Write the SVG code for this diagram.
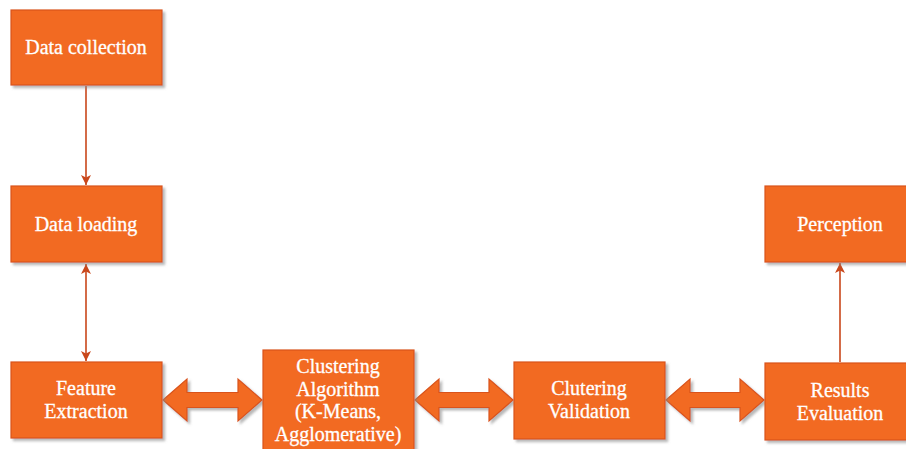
<svg xmlns="http://www.w3.org/2000/svg" width="906" height="449" viewBox="0 0 906 449">
<defs>
<style>
.box{fill:#F26B21;stroke:#D9531C;stroke-width:1.2;filter:url(#sh)}
.t{font-family:"Liberation Serif","Times New Roman",serif;font-size:20px;fill:#FFFFFF;stroke:#FFFFFF;stroke-width:0.3;text-anchor:middle}
.ln{stroke:#C9471B;stroke-width:1.6;fill:none}
.blk{fill:#F26B21;stroke:#D9531C;stroke-width:1.2;filter:url(#sh)}
</style>
<filter id="sh" x="-10%" y="-10%" width="130%" height="130%">
<feDropShadow dx="2.5" dy="2.5" stdDeviation="1" flood-color="#888888" flood-opacity="0.6"/>
</filter>
<marker id="ah" viewBox="0 0 10 10" refX="10" refY="5" markerWidth="10" markerHeight="10" markerUnits="userSpaceOnUse" orient="auto-start-reverse">
<path d="M0,0 L10,5 L0,10 L2.5,5 Z" fill="#C9471B"/>
</marker>
</defs>
<rect width="906" height="449" fill="#FFFFFF"/>
<g id="connectors">
<line class="ln" x1="86" y1="86" x2="86" y2="185" marker-end="url(#ah)"/>
<line class="ln" x1="86" y1="264" x2="86" y2="361" marker-start="url(#ah)" marker-end="url(#ah)"/>
<line class="ln" x1="840" y1="362" x2="840" y2="263" marker-end="url(#ah)"/>
<path class="blk" d="M163,400 L187,379 L187,392.5 L238,392.5 L238,379 L262,400 L238,421 L238,407.5 L187,407.5 L187,421 Z"/>
<path class="blk" d="M415,400 L439,379 L439,392.5 L489,392.5 L489,379 L513,400 L489,421 L489,407.5 L439,407.5 L439,421 Z"/>
<path class="blk" d="M666,400 L690,379 L690,392.5 L740,392.5 L740,379 L764,400 L740,421 L740,407.5 L690,407.5 L690,421 Z"/>
</g>
<g id="data-collection">
<rect class="box" x="11" y="10" width="151" height="75"/>
<text class="t" x="86" y="54">Data collection</text>
</g>
<g id="data-loading">
<rect class="box" x="11" y="186" width="151" height="76"/>
<text class="t" x="86" y="231">Data loading</text>
</g>
<g id="feature-extraction">
<rect class="box" x="11" y="362" width="151" height="76"/>
<text class="t" x="86" y="395">Feature</text>
<text class="t" x="86" y="418">Extraction</text>
</g>
<g id="clustering-algorithm">
<rect class="box" x="263" y="350" width="151" height="110"/>
<text class="t" x="338" y="373">Clustering</text>
<text class="t" x="338" y="395.5">Algorithm</text>
<text class="t" x="338" y="418">(K-Means,</text>
<text class="t" x="338" y="440.5">Agglomerative)</text>
</g>
<g id="clutering-validation">
<rect class="box" x="514" y="362" width="151" height="77"/>
<text class="t" x="589" y="395">Clutering</text>
<text class="t" x="589" y="418">Validation</text>
</g>
<g id="results-evaluation">
<rect class="box" x="765" y="363" width="151" height="77"/>
<text class="t" x="840" y="397">Results</text>
<text class="t" x="840" y="420">Evaluation</text>
</g>
<g id="perception">
<rect class="box" x="765" y="186" width="151" height="76"/>
<text class="t" x="840" y="231">Perception</text>
</g>
</svg>
